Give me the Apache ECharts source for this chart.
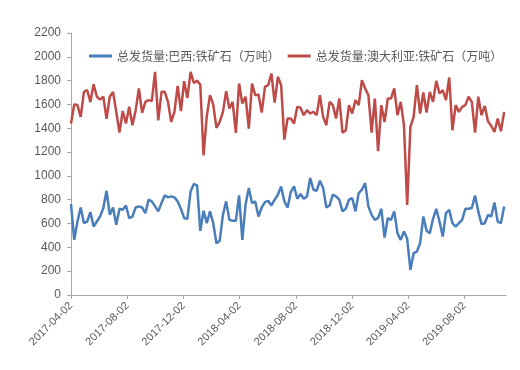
<!DOCTYPE html>
<html>
<head>
<meta charset="utf-8">
<script src="https://cdn.jsdelivr.net/npm/echarts@6/dist/echarts.min.js"></script>
<style>
html,body{margin:0;padding:0;background:#fff;}
#chart{width:520px;height:370px;}
</style>
</head>
<body>
<div id="chart"></div>
<script>
// weekly observations, first week and step
const startDate = '2017-04-02';
const weekStepDays = 7;

const seriesNames = ['总发货量:巴西:铁矿石（万吨）', '总发货量:澳大利亚:铁矿石（万吨）'];

const brazil = [
  764,463,617,735,603,617,696,575,617,659,730,875,673,735,589,724,716,752,645,659,
  735,744,735,687,800,786,744,702,772,836,820,828,820,786,724,645,640,870,932,921,
  539,707,603,702,603,
  435,455,673,786,631,623,623,836,463,758,898,772,786,659,735,780,791,752,800,842,
  912,786,735,864,912,808,848,808,828,982,884,875,960,898,735,752,842,828,800,702,
  724,800,814,702,856,
  884,940,744,673,631,645,724,482,645,631,702,519,463,533,472,211,351,365,435,659,
  539,519,640,724,617,491,687,716,603,575,603,631,724,724,730,836,702,595,603,673,
  659,777,617,603,744
];

const australia = [
  1440,1600,1595,1495,1706,1720,1620,1770,1665,1640,1665,1480,1665,1706,1538,1363,1545,1440,1580,1425,
  1550,1734,1530,1622,1636,1628,1874,1467,1706,1706,1622,1453,1538,1756,1545,1795,1655,1874,1780,1800,
  1765,1172,1500,1678,1600,
  1403,1453,1538,1712,1566,1622,1361,1776,1608,1665,1397,1776,1678,1684,1532,1748,1762,1860,1616,1832,
  1762,1305,1482,1482,1440,1580,1572,1510,1552,1524,1538,1510,1678,1496,1426,1622,1594,1482,1650,1363,
  1383,1594,1524,1636,1594,1804,
  1734,1678,1363,1650,1207,1594,1453,1650,1650,1734,1510,1622,1426,757,1411,1496,1762,1524,1700,1532,
  1706,1622,1798,1692,1720,1636,1826,1383,1594,1538,1580,1594,1665,1622,1363,1665,1510,1588,1459,1420,
  1369,1482,1375,1538
];

const xTickLabels = ['2017-04-02','2017-08-02','2017-12-02','2018-04-02','2018-08-02','2018-12-02','2019-04-02','2019-08-02'];
const xAxisMax = '2019-10-31';
const yTicks = [0,200,400,600,800,1000,1200,1400,1600,1800,2000,2200];

const DAY = 86400000;
function parseDay(s){
  const p = s.split('-').map(Number);
  return Date.UTC(p[0], p[1]-1, p[2]);
}
const t0 = parseDay(startDate);
function dayIndex(s){ return Math.round((parseDay(s) - t0) / DAY); }

// x position = days since startDate
const xDays = brazil.map((_, i) => i * weekStepDays);
const tickDays = xTickLabels.map(dayIndex);
const labelMap = {};
xTickLabels.forEach((s, i) => { labelMap[tickDays[i]] = s; });

const chart = echarts.init(document.getElementById('chart'), null, {renderer:'canvas'});
const font = '"Liberation Sans", "Noto Sans CJK SC", sans-serif';

chart.setOption({
  animation: false,
  backgroundColor: '#ffffff',
  textStyle: { fontFamily: font },
  legend: {
    left: 89,
    top: 50,
    padding: 0,
    icon: 'rect',
    itemWidth: 23,
    itemHeight: 3,
    itemGap: 8,
    textStyle: { fontSize: 12, color: '#595959', fontFamily: '"Noto Sans CJK SC", sans-serif' },
    data: seriesNames
  },
  grid: { left: 71, right: 14, top: 33, bottom: 75, containLabel: false },
  xAxis: {
    type: 'value',
    min: 0,
    max: dayIndex(xAxisMax),
    axisLine: { show: true, onZero: false, lineStyle: { color: '#A6A6A6', width: 1 } },
    axisTick: { show: true, length: 4, lineStyle: { color: '#A6A6A6' }, customValues: tickDays },
    splitLine: { show: false },
    axisLabel: {
      customValues: tickDays,
      rotate: 45,
      margin: 9,
      fontSize: 11,
      color: '#595959',
      fontFamily: font,
      formatter: function (v) { return labelMap[Math.round(v)] || ''; }
    }
  },
  yAxis: {
    type: 'value',
    min: yTicks[0],
    max: yTicks[yTicks.length-1],
    interval: yTicks[1]-yTicks[0],
    axisLine: { show: true, lineStyle: { color: '#A6A6A6', width: 1 } },
    axisTick: { show: true, length: 4, lineStyle: { color: '#A6A6A6' } },
    splitLine: { show: false },
    axisLabel: { fontSize: 12, color: '#595959', margin: 10, fontFamily: font,
      formatter: function (v) { return String(v); } }
  },
  series: [
    {
      name: seriesNames[0],
      type: 'line',
      showSymbol: false,
      symbol: 'none',
      lineStyle: { color: '#4A7EBB', width: 2.5 },
      itemStyle: { color: '#4A7EBB' },
      data: xDays.map((d, i) => [d, brazil[i]])
    },
    {
      name: seriesNames[1],
      type: 'line',
      showSymbol: false,
      symbol: 'none',
      lineStyle: { color: '#BE4B48', width: 2.5 },
      itemStyle: { color: '#BE4B48' },
      data: xDays.map((d, i) => [d, australia[i]])
    }
  ]
});
</script>
</body>
</html>
